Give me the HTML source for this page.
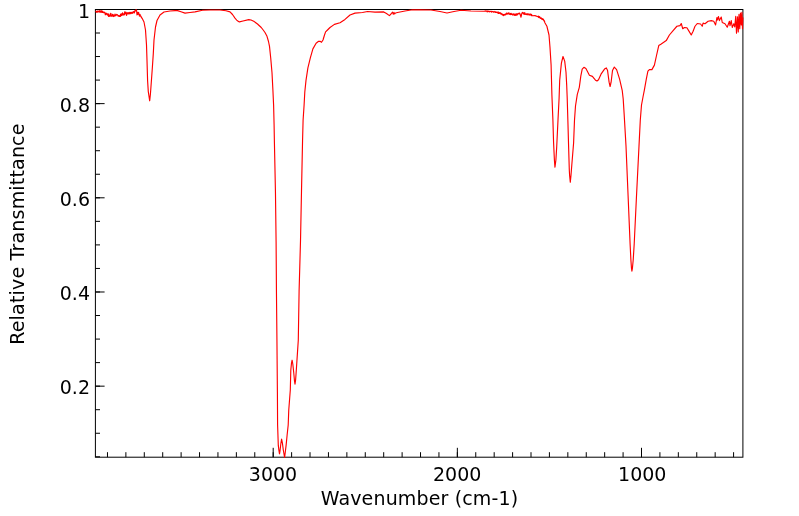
<!DOCTYPE html>
<html><head><meta charset="utf-8"><title>IR Spectrum</title>
<style>
html,body{margin:0;padding:0;background:#fff;}
svg{display:block;}
text{font-family:"DejaVu Sans","Liberation Sans",sans-serif;font-size:19px;fill:#000;}
</style></head><body>
<svg width="799" height="516" viewBox="0 0 799 516">
<rect x="0" y="0" width="799" height="516" fill="#fff"/>
<g stroke="#000" stroke-width="1" fill="none">
<rect x="95.4" y="9.5" width="647.5" height="447.7"/>
<line x1="733.58" y1="457.2" x2="733.58" y2="452.2"/>
<line x1="715.16" y1="457.2" x2="715.16" y2="452.2"/>
<line x1="696.75" y1="457.2" x2="696.75" y2="452.2"/>
<line x1="678.33" y1="457.2" x2="678.33" y2="452.2"/>
<line x1="659.91" y1="457.2" x2="659.91" y2="452.2"/>
<line x1="641.50" y1="457.2" x2="641.50" y2="452.2"/>
<line x1="641.50" y1="457.2" x2="641.50" y2="447.8"/>
<line x1="623.09" y1="457.2" x2="623.09" y2="452.2"/>
<line x1="604.67" y1="457.2" x2="604.67" y2="452.2"/>
<line x1="586.25" y1="457.2" x2="586.25" y2="452.2"/>
<line x1="567.84" y1="457.2" x2="567.84" y2="452.2"/>
<line x1="549.42" y1="457.2" x2="549.42" y2="452.2"/>
<line x1="531.01" y1="457.2" x2="531.01" y2="452.2"/>
<line x1="512.60" y1="457.2" x2="512.60" y2="452.2"/>
<line x1="494.18" y1="457.2" x2="494.18" y2="452.2"/>
<line x1="475.76" y1="457.2" x2="475.76" y2="452.2"/>
<line x1="457.35" y1="457.2" x2="457.35" y2="452.2"/>
<line x1="457.35" y1="457.2" x2="457.35" y2="447.8"/>
<line x1="438.94" y1="457.2" x2="438.94" y2="452.2"/>
<line x1="420.52" y1="457.2" x2="420.52" y2="452.2"/>
<line x1="402.11" y1="457.2" x2="402.11" y2="452.2"/>
<line x1="383.69" y1="457.2" x2="383.69" y2="452.2"/>
<line x1="365.27" y1="457.2" x2="365.27" y2="452.2"/>
<line x1="346.86" y1="457.2" x2="346.86" y2="452.2"/>
<line x1="328.44" y1="457.2" x2="328.44" y2="452.2"/>
<line x1="310.03" y1="457.2" x2="310.03" y2="452.2"/>
<line x1="291.62" y1="457.2" x2="291.62" y2="452.2"/>
<line x1="273.20" y1="457.2" x2="273.20" y2="452.2"/>
<line x1="273.20" y1="457.2" x2="273.20" y2="447.8"/>
<line x1="254.78" y1="457.2" x2="254.78" y2="452.2"/>
<line x1="236.37" y1="457.2" x2="236.37" y2="452.2"/>
<line x1="217.95" y1="457.2" x2="217.95" y2="452.2"/>
<line x1="199.54" y1="457.2" x2="199.54" y2="452.2"/>
<line x1="181.12" y1="457.2" x2="181.12" y2="452.2"/>
<line x1="162.71" y1="457.2" x2="162.71" y2="452.2"/>
<line x1="144.29" y1="457.2" x2="144.29" y2="452.2"/>
<line x1="125.88" y1="457.2" x2="125.88" y2="452.2"/>
<line x1="107.47" y1="457.2" x2="107.47" y2="452.2"/>
<line x1="95.4" y1="456.80" x2="100.0" y2="456.80"/>
<line x1="95.4" y1="433.26" x2="100.0" y2="433.26"/>
<line x1="95.4" y1="409.71" x2="100.0" y2="409.71"/>
<line x1="95.4" y1="386.17" x2="100.0" y2="386.17"/>
<line x1="95.4" y1="386.17" x2="104.60000000000001" y2="386.17"/>
<line x1="95.4" y1="362.62" x2="100.0" y2="362.62"/>
<line x1="95.4" y1="339.08" x2="100.0" y2="339.08"/>
<line x1="95.4" y1="315.53" x2="100.0" y2="315.53"/>
<line x1="95.4" y1="291.99" x2="100.0" y2="291.99"/>
<line x1="95.4" y1="291.99" x2="104.60000000000001" y2="291.99"/>
<line x1="95.4" y1="268.44" x2="100.0" y2="268.44"/>
<line x1="95.4" y1="244.90" x2="100.0" y2="244.90"/>
<line x1="95.4" y1="221.35" x2="100.0" y2="221.35"/>
<line x1="95.4" y1="197.81" x2="100.0" y2="197.81"/>
<line x1="95.4" y1="197.81" x2="104.60000000000001" y2="197.81"/>
<line x1="95.4" y1="174.26" x2="100.0" y2="174.26"/>
<line x1="95.4" y1="150.72" x2="100.0" y2="150.72"/>
<line x1="95.4" y1="127.17" x2="100.0" y2="127.17"/>
<line x1="95.4" y1="103.63" x2="100.0" y2="103.63"/>
<line x1="95.4" y1="103.63" x2="104.60000000000001" y2="103.63"/>
<line x1="95.4" y1="80.09" x2="100.0" y2="80.09"/>
<line x1="95.4" y1="56.54" x2="100.0" y2="56.54"/>
<line x1="95.4" y1="33.00" x2="100.0" y2="33.00"/>
</g>
<path d="M95.50,11.80 L96.00,10.98 L96.27,12.21 L96.54,11.56 L96.81,12.05 L97.08,12.47 L97.35,11.65 L97.62,11.55 L97.89,10.74 L98.16,11.08 L98.43,11.50 L98.70,11.82 L98.97,12.05 L99.24,11.29 L99.51,10.72 L99.78,11.12 L100.05,12.24 L100.32,10.98 L100.59,11.41 L100.86,12.28 L101.13,10.64 L101.40,11.68 L101.67,12.31 L101.94,11.01 L102.21,11.69 L102.48,12.48 L102.75,11.21 L103.02,12.05 L103.29,12.60 L103.56,12.58 L103.83,12.36 L104.10,12.04 L104.37,12.76 L104.64,12.75 L104.91,13.14 L105.00,12.71 L105.27,14.80 L105.54,14.73 L105.81,13.11 L106.08,14.31 L106.35,13.19 L106.62,13.97 L106.89,13.63 L107.16,14.92 L107.43,13.84 L107.70,14.26 L107.97,15.37 L108.24,14.33 L108.51,16.51 L108.78,13.81 L109.05,16.25 L109.32,15.18 L109.59,15.40 L109.86,16.43 L110.13,15.96 L110.40,15.26 L110.67,13.34 L110.94,13.43 L111.21,15.89 L111.48,15.22 L111.75,15.97 L112.00,16.43 L112.27,15.79 L112.54,14.22 L112.81,14.96 L113.08,15.72 L113.35,14.72 L113.62,16.55 L113.89,16.43 L114.16,16.12 L114.43,15.07 L114.70,15.96 L114.97,14.05 L115.24,14.56 L115.51,15.03 L115.78,15.82 L116.05,15.23 L116.32,14.39 L116.59,14.99 L116.86,15.01 L117.13,14.98 L117.40,14.63 L117.67,15.28 L117.94,15.37 L118.21,16.21 L118.48,16.27 L118.75,15.56 L119.02,15.40 L119.29,16.22 L119.56,16.51 L119.83,15.95 L120.10,16.23 L120.37,16.46 L120.64,13.99 L120.91,16.02 L121.18,14.33 L121.45,14.71 L121.72,15.41 L121.99,15.07 L122.00,13.23 L122.27,14.98 L122.54,12.77 L122.81,13.72 L123.08,15.27 L123.35,13.79 L123.62,14.32 L123.89,14.69 L124.16,14.94 L124.43,14.63 L124.70,11.83 L124.97,13.22 L125.24,13.40 L125.51,11.98 L125.78,13.77 L126.05,14.05 L126.32,14.88 L126.59,15.33 L126.86,12.44 L127.00,13.31 L127.27,14.01 L127.54,12.99 L127.81,13.09 L128.08,13.65 L128.35,12.85 L128.62,13.88 L128.89,13.94 L129.16,12.38 L129.43,13.21 L129.70,13.61 L129.97,13.86 L130.24,12.55 L130.51,12.32 L130.78,13.55 L131.05,13.56 L131.32,12.24 L131.59,12.63 L131.86,13.08 L132.13,13.27 L132.40,12.00 L132.67,12.85 L132.94,13.06 L133.21,12.54 L133.48,11.78 L133.75,11.48 L134.20,11.59 L134.47,12.99 L134.74,10.79 L135.01,10.61 L135.28,11.20 L135.55,10.00 L135.82,10.00 L136.50,9.80 L137.00,15.00 L137.50,12.34 L137.77,13.94 L138.04,14.31 L138.31,13.36 L138.58,12.33 L138.85,13.25 L139.12,14.48 L139.39,16.15 L139.50,15.09 L139.77,14.46 L140.04,14.45 L140.31,15.71 L140.58,16.15 L140.85,16.03 L141.12,16.86 L141.39,17.42 L141.66,17.56 L141.93,18.33 L142.00,18.00 L144.00,22.00 L145.50,30.00 L146.50,45.00 L147.00,60.40 L147.60,80.70 L148.30,91.60 L149.70,100.80 L150.40,94.30 L151.40,80.70 L152.40,67.00 L153.30,53.60 L154.00,40.00 L155.50,27.00 L157.00,20.50 L160.00,15.00 L164.00,12.00 L170.00,11.00 L175.00,10.60 L177.50,10.60 L181.00,11.80 L185.00,13.10 L190.00,12.50 L195.00,11.90 L202.50,10.30 L210.00,10.00 L220.00,10.00 L226.00,10.80 L230.00,11.90 L232.50,14.50 L235.00,18.10 L237.00,20.50 L239.40,21.90 L243.00,21.00 L248.75,19.60 L251.00,20.00 L253.75,21.25 L257.50,24.00 L261.25,27.50 L263.20,30.00 L265.00,32.50 L267.00,36.30 L268.50,41.50 L269.50,46.40 L270.70,57.70 L272.00,72.80 L272.90,90.00 L273.60,105.00 L274.10,125.30 L274.40,142.00 L275.45,192.00 L276.10,242.00 L276.45,292.00 L276.95,342.00 L277.40,392.00 L277.60,425.00 L278.30,445.40 L279.00,451.00 L279.50,453.80 L280.00,451.00 L280.80,444.00 L281.60,439.00 L282.40,443.00 L283.30,450.00 L284.60,457.50 L285.30,452.00 L286.10,445.40 L287.10,435.20 L288.20,425.00 L288.75,410.20 L290.30,390.00 L290.80,370.20 L291.50,363.00 L292.10,360.20 L292.80,364.00 L293.80,373.20 L294.50,381.00 L295.00,384.10 L295.60,380.00 L296.30,370.20 L297.30,355.10 L298.30,340.00 L299.10,291.00 L300.50,241.00 L301.50,191.00 L302.55,141.00 L303.10,120.00 L304.10,105.00 L304.80,92.00 L306.00,80.40 L307.90,67.80 L310.40,57.70 L312.90,48.90 L316.10,43.20 L318.60,41.30 L320.00,41.30 L321.50,42.30 L323.00,40.00 L324.50,35.00 L325.60,31.90 L328.00,29.50 L330.00,27.50 L334.40,24.40 L340.00,22.75 L345.00,19.40 L350.00,15.00 L355.00,13.10 L362.50,12.50 L367.50,11.50 L375.00,12.10 L383.75,11.90 L386.50,13.50 L389.40,15.60 L391.00,14.00 L392.50,12.10 L393.30,14.20 L394.00,12.40 L394.70,14.00 L395.50,13.00 L397.50,12.50 L405.00,11.00 L412.50,9.80 L420.00,9.80 L431.00,10.00 L440.00,11.50 L447.00,13.00 L454.00,11.50 L461.00,10.25 L471.00,11.00 L484.00,11.25 L486.00,10.89 L486.27,11.16 L486.54,11.18 L486.81,11.04 L487.08,11.84 L487.35,10.98 L487.62,11.64 L487.89,11.05 L488.16,11.36 L488.43,11.43 L488.70,11.21 L488.97,11.56 L489.24,11.59 L489.51,11.39 L489.78,11.83 L490.05,11.27 L490.32,11.32 L490.59,11.49 L490.86,11.53 L491.13,11.38 L491.40,12.11 L491.67,12.03 L491.94,11.33 L492.21,11.60 L492.48,11.48 L492.75,11.72 L493.02,11.56 L493.29,11.80 L493.56,12.24 L493.83,11.71 L494.10,12.00 L494.37,11.96 L494.64,12.13 L494.91,11.46 L495.18,12.19 L495.45,12.45 L495.72,12.18 L495.99,11.93 L496.26,12.37 L496.53,12.48 L496.80,12.49 L497.07,12.04 L497.34,12.94 L497.61,12.98 L497.88,12.52 L498.00,12.77 L498.27,11.95 L498.54,13.53 L498.81,13.32 L499.08,13.10 L499.35,13.36 L499.62,12.51 L499.89,12.77 L500.16,12.79 L500.43,13.50 L500.70,12.85 L500.97,14.29 L501.24,13.75 L501.51,13.88 L501.78,13.49 L502.05,14.57 L502.32,14.94 L502.59,14.79 L502.86,14.33 L503.13,15.35 L503.40,14.48 L503.67,15.73 L503.94,15.27 L504.21,14.65 L504.48,14.86 L504.75,14.89 L505.02,14.14 L505.29,14.93 L505.56,14.09 L505.83,14.69 L506.10,14.45 L506.37,13.12 L506.64,13.84 L506.91,13.15 L507.18,13.83 L507.45,13.54 L507.72,13.44 L507.99,14.18 L508.26,12.88 L508.53,13.72 L508.80,13.39 L509.07,12.97 L509.34,14.16 L509.61,13.89 L509.88,14.46 L510.15,14.03 L510.42,13.65 L510.69,14.73 L510.96,13.38 L511.23,13.33 L511.50,14.47 L511.77,13.95 L512.04,13.99 L512.31,14.86 L512.58,14.04 L512.85,14.99 L513.12,14.65 L513.39,14.20 L513.66,13.83 L513.93,14.18 L514.20,15.39 L514.47,14.54 L514.74,14.20 L515.01,14.47 L515.28,15.38 L515.55,14.15 L515.82,15.07 L516.09,13.99 L516.36,15.25 L516.63,14.51 L516.90,13.67 L517.17,15.03 L517.44,14.06 L517.71,14.60 L517.98,14.21 L518.25,13.47 L518.52,13.43 L518.79,13.44 L519.06,13.41 L519.33,13.18 L519.60,13.11 L519.87,14.49 L520.00,13.75 L521.00,17.25 L521.90,13.10 L522.50,12.48 L522.77,13.28 L523.04,12.63 L523.31,12.85 L523.58,13.89 L523.85,14.26 L524.12,13.47 L524.39,12.68 L524.66,14.52 L524.93,12.86 L525.20,13.53 L525.47,13.85 L525.74,14.53 L526.01,14.46 L526.28,14.13 L526.55,13.80 L526.82,14.64 L527.09,14.75 L527.36,14.81 L527.63,14.58 L527.90,13.51 L528.17,13.93 L528.44,14.32 L528.71,14.40 L528.98,15.04 L529.25,14.02 L529.52,14.84 L529.79,14.37 L530.06,15.15 L530.33,14.16 L530.60,14.71 L530.87,14.09 L531.14,14.34 L531.41,15.69 L531.68,14.63 L531.95,15.72 L535.00,15.60 L538.00,16.77 L538.27,16.20 L538.54,17.36 L538.81,16.42 L539.08,17.61 L539.35,16.57 L539.62,17.60 L539.89,16.99 L540.16,17.39 L540.43,18.42 L540.70,17.95 L540.97,18.37 L541.24,18.66 L541.51,17.96 L541.78,19.16 L542.05,19.45 L542.32,18.56 L542.59,19.29 L542.86,19.10 L543.13,19.92 L543.40,19.11 L543.67,19.96 L543.94,20.79 L544.21,21.24 L544.48,20.90 L544.75,22.45 L546.90,26.25 L549.00,35.00 L550.00,47.50 L551.10,65.00 L551.90,95.00 L552.90,120.00 L553.60,143.00 L554.40,160.00 L554.95,167.20 L555.90,160.00 L556.70,147.00 L558.00,120.00 L559.10,98.00 L559.70,80.20 L561.40,63.10 L563.00,56.50 L564.70,61.10 L566.00,72.20 L566.70,85.30 L567.20,98.00 L568.00,125.00 L568.50,143.00 L569.30,170.00 L569.60,175.30 L570.30,182.30 L571.00,175.30 L571.80,165.00 L573.60,143.00 L574.50,120.00 L575.50,106.00 L577.30,94.30 L579.30,87.30 L580.80,76.20 L582.20,69.10 L583.90,67.30 L585.90,68.60 L589.40,75.20 L592.40,76.40 L595.50,80.20 L597.00,81.00 L598.50,79.70 L601.00,74.20 L604.50,69.10 L606.30,67.90 L607.50,70.20 L609.10,82.20 L610.10,86.50 L611.10,82.20 L612.50,70.50 L614.30,67.10 L616.60,69.60 L619.60,79.20 L622.20,90.30 L623.20,99.00 L624.20,115.00 L626.00,146.00 L628.10,196.00 L630.10,244.00 L630.90,260.00 L631.50,268.50 L631.90,271.20 L632.40,268.50 L633.20,260.00 L634.20,244.00 L636.50,196.00 L639.00,146.00 L640.30,120.00 L641.50,105.00 L643.00,97.00 L644.30,90.30 L646.30,79.20 L647.90,71.20 L649.40,69.60 L651.90,69.60 L654.40,65.10 L656.40,56.00 L658.75,45.60 L661.25,44.00 L666.25,40.60 L669.40,35.00 L673.10,30.60 L676.90,26.25 L680.00,25.60 L681.25,23.50 L682.75,28.75 L684.40,27.50 L686.90,27.75 L689.40,31.90 L691.25,35.00 L693.10,31.25 L695.00,26.25 L697.25,23.50 L700.60,24.00 L702.25,26.25 L703.10,23.10 L705.00,23.75 L708.10,21.25 L711.25,20.60 L713.75,21.25 L715.60,25.00 L716.90,17.50 L717.50,20.00 L718.50,16.50 L719.40,20.60 L721.25,17.10 L722.25,22.50 L725.00,23.75 L727.25,27.25 L729.40,21.25 L730.00,25.60 L731.25,20.60 L732.25,27.50 L733.75,23.75 L734.75,26.90 L735.75,16.25 L736.50,33.10 L737.50,16.90 L738.25,31.90 L739.00,14.40 L739.75,28.75 L740.50,13.10 L741.25,25.00 L741.90,12.25 L742.50,28.75 L742.90,17.50" fill="none" stroke="#ff0000" stroke-width="1.15" stroke-linejoin="round"/>
<g>
<text x="273.00" y="480.6" text-anchor="middle">3000</text>
<text x="457.15" y="480.6" text-anchor="middle">2000</text>
<text x="642.30" y="480.6" text-anchor="middle">1000</text>
<text x="90" y="17.60" text-anchor="end">1</text>
<text x="90" y="111.60" text-anchor="end">0.8</text>
<text x="90" y="205.60" text-anchor="end">0.6</text>
<text x="90" y="299.60" text-anchor="end">0.4</text>
<text x="90" y="393.60" text-anchor="end">0.2</text>
<text x="419.5" y="505" text-anchor="middle" letter-spacing="0.15">Wavenumber (cm-1)</text>
<text transform="translate(23.5,234.1) rotate(-90)" text-anchor="middle" letter-spacing="0.185">Relative Transmittance</text>
</g>
</svg>
</body></html>
